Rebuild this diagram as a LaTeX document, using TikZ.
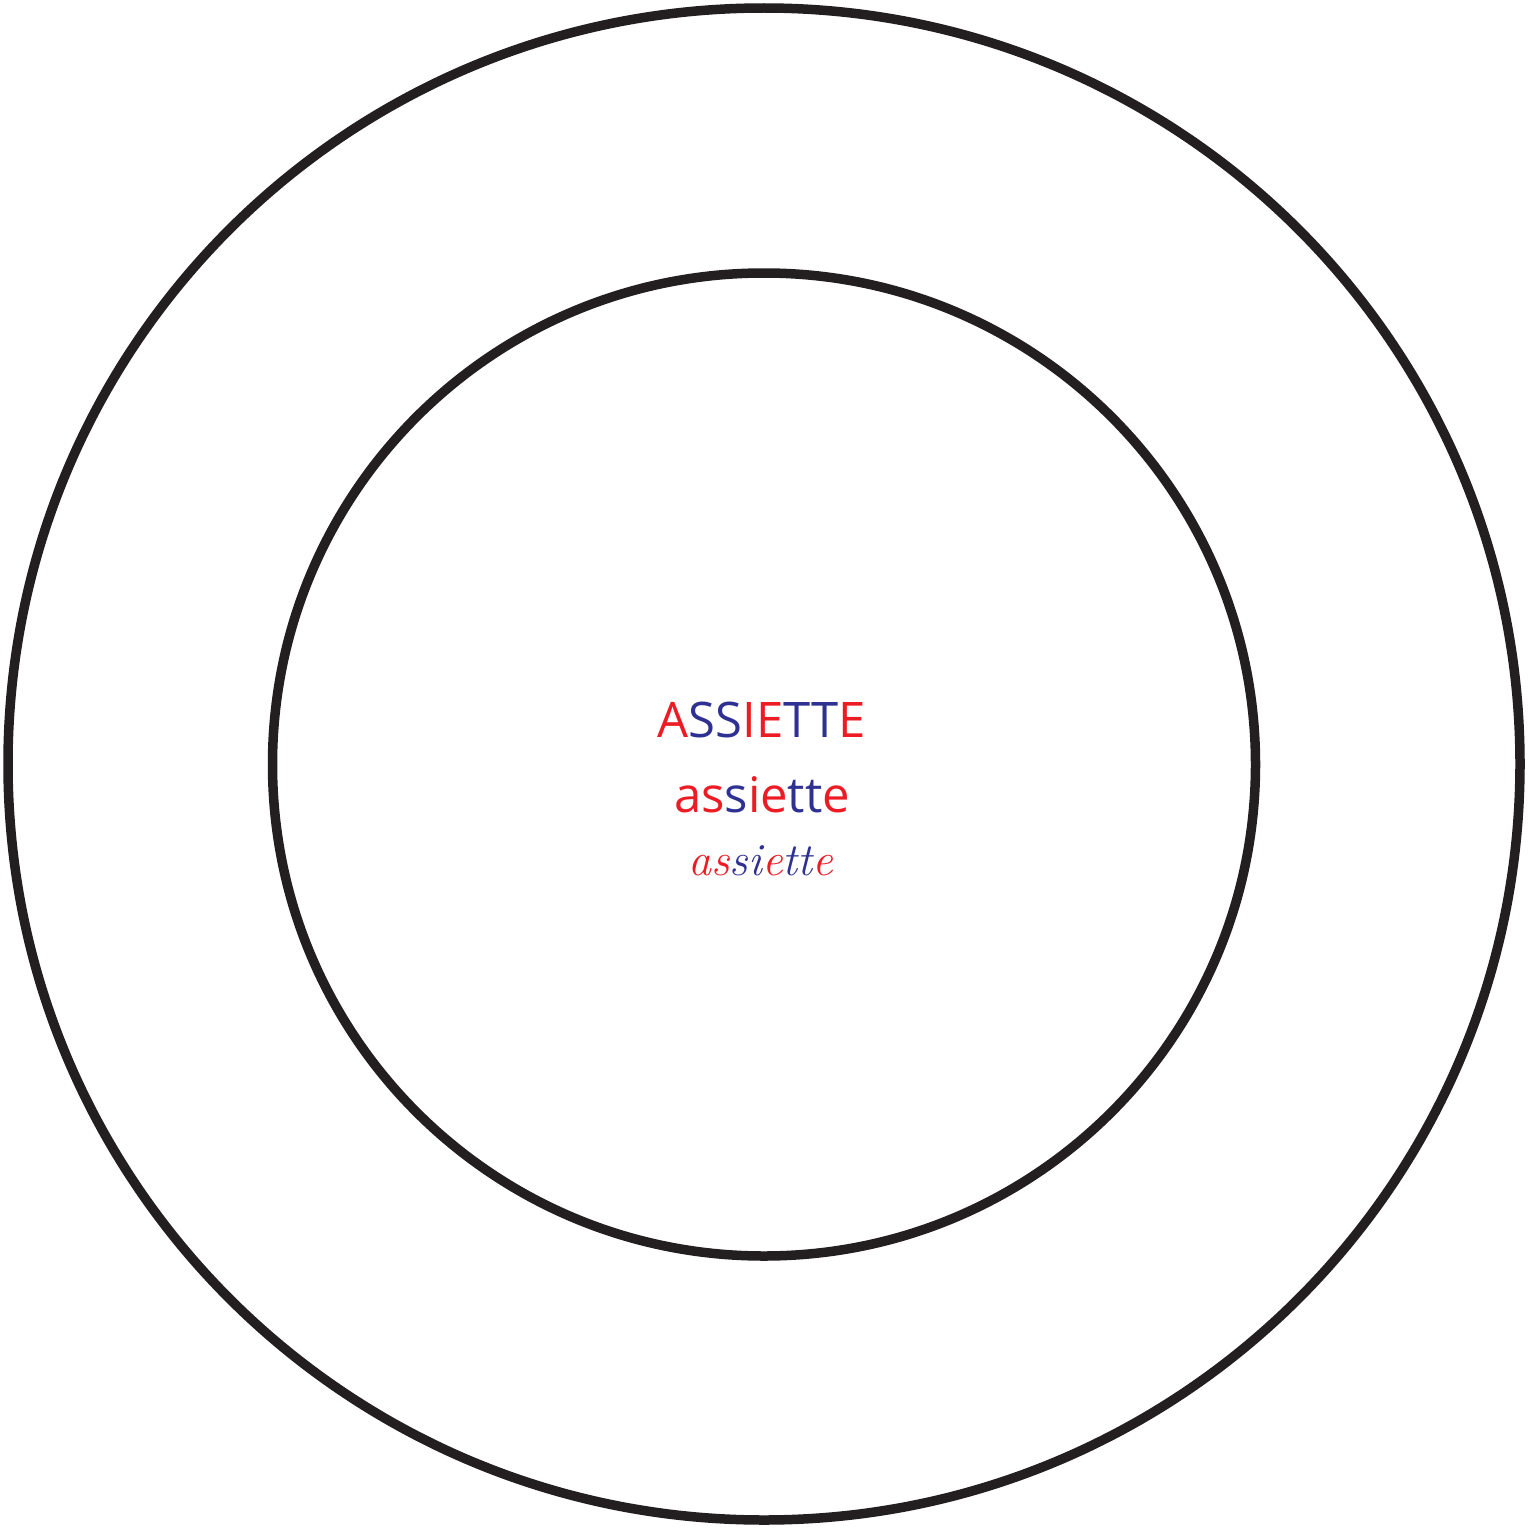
\documentclass[tikz,border=0pt]{standalone}
\usepackage{fontspec}
\setmainfont{Open Sans}
\newfontfamily\cursivefont{Latin Modern Roman}
\definecolor{plate}{RGB}{35,31,32}
\definecolor{rouge}{RGB}{237,28,36}
\definecolor{bleu}{RGB}{46,49,146}
\newcommand{\R}[1]{\textcolor{rouge}{#1}}
\newcommand{\B}[1]{\textcolor{bleu}{#1}}
\tikzset{every picture/.style={line width=9.5pt}}
\begin{document}
\begin{tikzpicture}[x=1pt,y=1pt,yscale=-1,xscale=1]
		\useasboundingbox (0,0) rectangle (1529,1528);
		
		%Circle [id:outer]
		\draw [color=plate] (764,764) circle (756);
		%Circle [id:inner]
		\draw [color=plate] (764,764.5) circle (491.5);
		
		% Text Node
		\node (caps) at (762,737) [anchor=base][inner sep=0pt] {\fontsize{49}{58}\selectfont\R{A}\B{SS}\R{IE}\B{TT}\R{E}};
		% Text Node
		\node (lower) at (762,812) [anchor=base][inner sep=0pt] {\fontsize{49}{58}\selectfont\R{as}\B{s}\R{ie}\B{tt}\R{e}};
		% Text Node
		\node (script) at (761,875) [anchor=base][inner sep=0pt] {\fontsize{46}{54}\selectfont\cursivefont\itshape\R{as}\B{si}\R{e}\B{tt}\R{e}};
	\end{tikzpicture}
\end{document}
